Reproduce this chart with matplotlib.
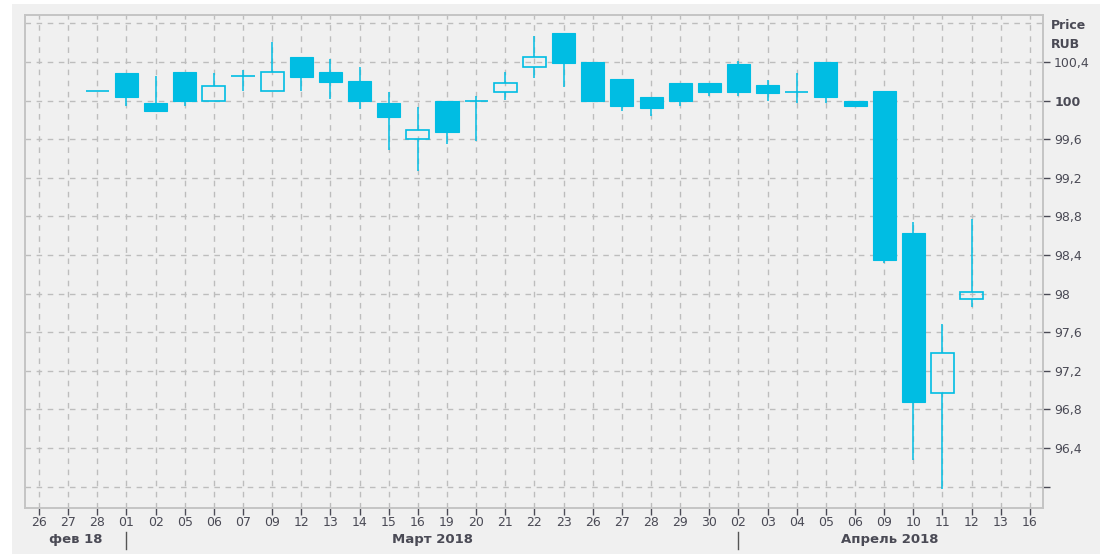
import numpy as np
import matplotlib
matplotlib.use('Agg')
import matplotlib.pyplot as plt
from matplotlib.patches import Rectangle
import matplotlib.transforms as mtransforms

# axis day labels (26 Feb .. 16 Apr 2018, trading days)
day_labels = ['26', '27', '28', '01', '02', '05', '06', '07', '09', '12', '13', '14',
              '15', '16', '19', '20', '21', '22', '23', '26', '27', '28', '29', '30',
              '02', '03', '04', '05', '06', '09', '10', '11', '12', '13', '16']

# candles start at 28 Feb (index 2)
first_candle = 2
opens = [100.10, 100.29, 99.975, 100.30, 100.0, 100.256, 100.10, 100.456, 100.30, 100.20,
         99.973, 99.60, 100.0, 100.0, 100.093, 100.352, 100.705, 100.40, 100.228, 100.041,
         100.187, 100.187, 100.377, 100.16, 100.093, 100.40, 100.0, 100.104, 98.632, 96.975,
         97.945]
highs = [100.10, 100.29, 100.26, 100.30, 100.29, 100.32, 100.61, 100.456, 100.43, 100.35,
         100.087, 99.93, 100.0, 100.05, 100.30, 100.674, 100.705, 100.40, 100.228, 100.041,
         100.187, 100.187, 100.415, 100.215, 100.29, 100.40, 100.0, 100.104, 98.74, 97.69,
         98.77]
lows = [100.10, 99.945, 99.89, 99.945, 100.0, 100.10, 100.10, 100.10, 100.02, 99.915,
        99.49, 99.275, 99.55, 99.585, 100.007, 100.238, 100.145, 100.0, 99.893, 99.845,
        99.948, 100.05, 100.05, 100.0, 99.98, 99.98, 99.93, 98.32, 96.28, 95.98,
        97.865]
closes = [100.10, 100.035, 99.895, 100.0, 100.155, 100.256, 100.30, 100.25, 100.19, 100.0,
          99.835, 99.70, 99.68, 100.0, 100.187, 100.456, 100.394, 100.0, 99.948, 99.92,
          100.0, 100.093, 100.093, 100.083, 100.093, 100.035, 99.948, 98.35, 96.88, 97.385,
          98.015]

month_names = ['фев 18', 'Март 2018', 'Апрель 2018']
month_label_x = [1.25, 13.5, 29.2]
month_starts = [3, 24]

y_ticks = np.round(np.arange(96.0, 100.41, 0.4), 1)

col = '#00bde3'
txt = '#4a4a55'

fig = plt.figure(figsize=(11.11, 5.54), dpi=100, facecolor='white')
fig.patches.append(Rectangle((12 / 1111, 0), 1088 / 1111, 1 - 4 / 554,
                             transform=fig.transFigure, facecolor='#f0f0f0',
                             edgecolor='none', zorder=-5))
ax = fig.add_axes([25 / 1111, 1 - 507.5 / 554, 1018 / 1111, 492.5 / 554])
ax.set_facecolor('#f0f0f0')

w = 0.79
for k in range(len(opens)):
    x = first_candle + k
    o, h, l, c = opens[k], highs[k], lows[k], closes[k]
    top, bot = max(o, c), min(o, c)
    if h > top:
        ax.vlines(x, top, h, color=col, lw=1.1, zorder=3)
    if l < bot:
        ax.vlines(x, l, bot, color=col, lw=1.1, zorder=3)
    if abs(o - c) < 1e-9:
        ax.hlines(o, x - w / 2, x + w / 2, color=col, lw=1.2, zorder=3)
    elif c < o:
        ax.bar(x, top - bot, bottom=bot, width=w, color=col, edgecolor=col,
               lw=0.8, zorder=3)
    else:
        ax.bar(x, top - bot, bottom=bot, width=w, fill=False, edgecolor=col,
               lw=1.2, zorder=3)

ax.set_xlim(-0.48, 34.45)
ax.set_ylim(95.784, 100.888)

ax.set_xticks(range(len(day_labels)))
ax.set_xticklabels(day_labels)
ax.yaxis.tick_right()
ax.set_yticks(y_ticks)
ylabels = []
for v in y_ticks:
    if v == 96.0:
        ylabels.append('')
    elif v == int(v):
        ylabels.append(str(int(v)))
    else:
        ylabels.append(('%.1f' % v).replace('.', ','))
ax.set_yticklabels(ylabels)
for t, v in zip(ax.get_yticklabels(), y_ticks):
    if v == 100.0:
        t.set_fontweight('bold')

ax.tick_params(axis='both', labelsize=9, colors=txt, length=5, width=1, direction='out')
ax.tick_params(axis='x', pad=1)
ax.tick_params(axis='y', pad=3)

gkw = dict(color='#bdbdbd', lw=1, ls=(0, (4, 4)))
ax.grid(True, **gkw)
ax.axhline(100.8, zorder=1, **gkw)
ax.set_axisbelow(True)

for s in ax.spines.values():
    s.set_color('#c4c4c4')
    s.set_linewidth(1.4)

ax.text(1.008, 100.68, 'Price\nRUB', transform=mtransforms.blended_transform_factory(ax.transAxes, ax.transData),
        ha='left', va='center', fontsize=9, fontweight='bold', color=txt, linespacing=1.6)

trans = mtransforms.blended_transform_factory(ax.transData, fig.transFigure)
for name, xm in zip(month_names, month_label_x):
    fig.text(xm, 1 - 540 / 554, name, transform=trans, ha='center', va='center',
             fontsize=9.5, fontweight='bold', color=txt)
for xs in month_starts:
    ax.plot([xs, xs], [1 - 532 / 554, 1 - 549 / 554], transform=trans, color='#555555',
            lw=1, clip_on=False)

fig.savefig('out.png', dpi=100, facecolor='white')
